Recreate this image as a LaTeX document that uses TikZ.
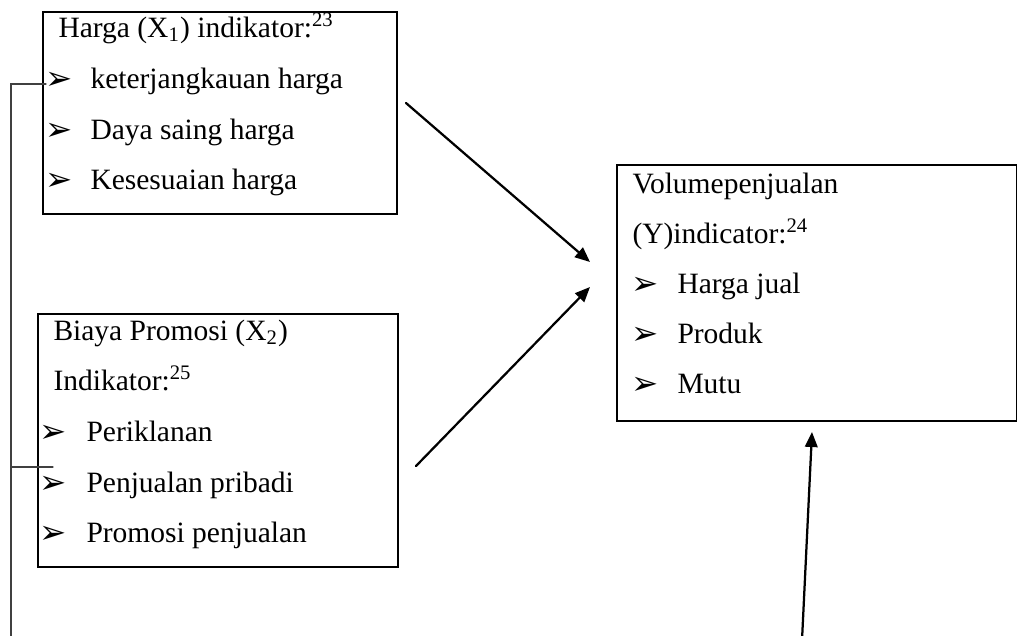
\documentclass[tikz,border=0pt]{standalone}
\usepackage{fontspec}
\setmainfont{Liberation Serif}
\newfontfamily\bulletfont{DejaVu Sans}
\usepackage{tikz}
\usetikzlibrary{arrows.meta}
\def\unit{0.4pt}
\tikzset{
  box/.style={draw, line width=0.9pt, anchor=north west, inner sep=0pt},
  txt/.style={anchor=base west, inner sep=0pt, font=\fontsize{11.8}{14}\selectfont},
  bul/.style={anchor=base west, inner sep=0pt, font=\bulletfont\fontsize{13}{14}\selectfont},
  arr/.style={line width=0.9pt, -{Triangle[length=6pt, width=5pt]}},
  link/.style={line width=0.45pt, black!75}
}

\begin{document}
\begin{tikzpicture}[x=\unit, y=-\unit, line cap=round]
  \useasboundingbox (0,0) rectangle (1017,635);

  \node[box, minimum width=354*\unit, minimum height=202*\unit] (harga) at (42,11) {};
  \node[txt] (hargaT) at (58,37) {Harga (X\textsubscript{1}) indikator:\textsuperscript{23}};
  \node[bul] (hb1) at (45,89) {➢};
  \node[txt] (h1) at (90,88) {keterjangkauan harga};
  \node[bul] (hb2) at (45,140) {➢};
  \node[txt] (h2) at (90,139) {Daya saing harga};
  \node[bul] (hb3) at (45,190) {➢};
  \node[txt] (h3) at (90,189) {Kesesuaian harga};

  \node[box, minimum width=360*\unit, minimum height=253*\unit] (biaya) at (37,313) {};
  \node[txt] (biayaT) at (53,340) {Biaya Promosi (X\textsubscript{2})};
  \node[txt] (biayaI) at (53,390) {Indikator:\textsuperscript{25}};
  \node[bul] (bb1) at (39,442) {➢};
  \node[txt] (b1) at (86,441) {Periklanan};
  \node[bul] (bb2) at (39,493) {➢};
  \node[txt] (b2) at (86,492) {Penjualan pribadi};
  \node[bul] (bb3) at (39,543) {➢};
  \node[txt] (b3) at (86,542) {Promosi penjualan};

  \node[box, minimum width=400*\unit, minimum height=256*\unit] (volume) at (616,164) {};
  \node[txt] (volumeT) at (632,193) {Volumepenjualan};
  \node[txt] (volumeI) at (632,243) {(Y)indicator:\textsuperscript{24}};
  \node[bul] (vb1) at (631,294) {➢};
  \node[txt] (v1) at (677,293) {Harga jual};
  \node[bul] (vb2) at (631,344) {➢};
  \node[txt] (v2) at (677,343) {Produk};
  \node[bul] (vb3) at (631,394) {➢};
  \node[txt] (v3) at (677,393) {Mutu};

  \coordinate (a1) at (406,103);
  \coordinate (a1e) at (590,262);
  \coordinate (a2) at (416,466);
  \coordinate (a2e) at (590,287);
  \coordinate (a3) at (802,640);
  \coordinate (a3e) at (812,432);
  \draw[arr] (a1) -- (a1e);
  \draw[arr] (a2) -- (a2e);
  \draw[arr] (a3) -- (a3e);

  \coordinate (lt) at (46,84);
  \coordinate (lb) at (11,640);
  \coordinate (lm) at (53,467);
  \draw[link] (lt) -| (lb);
  \draw[link] (lm) -- (lb |- lm);
\end{tikzpicture}
\end{document}
